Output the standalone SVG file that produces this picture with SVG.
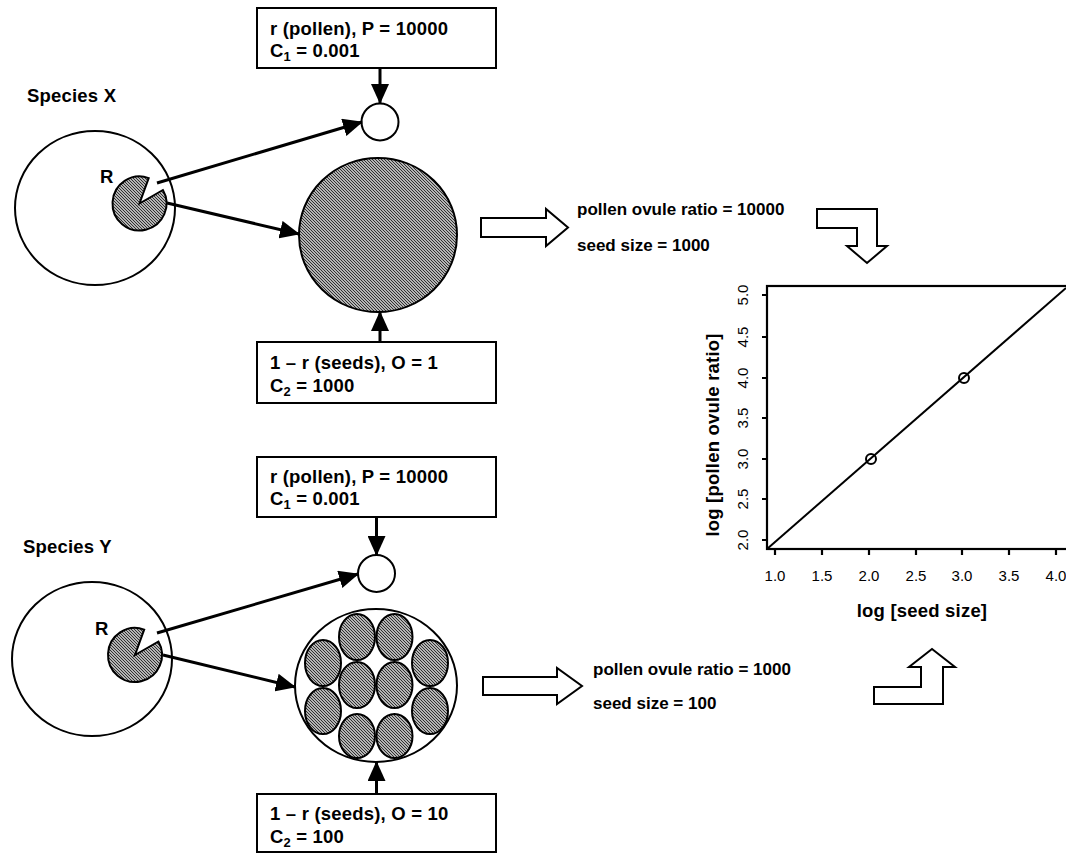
<svg xmlns="http://www.w3.org/2000/svg" width="1066" height="854" viewBox="0 0 1066 854">
<style>
text{font-family:"Liberation Sans",Arial,sans-serif;fill:#000}
.b{font-weight:bold;font-size:18.5px;letter-spacing:0.2px}
.r{font-weight:bold;font-size:17px}
.t{font-size:15px}
.sub{font-size:13px;letter-spacing:0}
.box{fill:#fff;stroke:#000;stroke-width:2}
.ol{fill:#fff;stroke:#000;stroke-width:2}
.h{fill:url(#hatch);stroke:#000;stroke-width:2}
.con{stroke:#000;stroke-width:3;fill:none;marker-end:url(#ah)}
.blk{fill:#fff;stroke:#000;stroke-width:2;stroke-linejoin:miter}
.ax{stroke:#000;stroke-width:2.2;fill:none}
</style>
<defs>
<pattern id="hatch" patternUnits="userSpaceOnUse" width="3" height="3">
<rect width="3" height="3" fill="#b4b4b4"/>
<path d="M0,0 L3,3 M-1,2 L1,4 M2,-1 L4,1" stroke="#222" stroke-width="0.9"/>
</pattern>
<marker id="ah" markerUnits="userSpaceOnUse" markerWidth="20" markerHeight="18" refX="19" refY="9" orient="auto">
<path d="M0,0 L20,9 L0,18 Z" fill="#000"/>
</marker>
</defs>
<rect width="1066" height="854" fill="#fff"/>

<g id="speciesX">
<text class="b" x="27" y="102">Species X</text>
<ellipse class="ol" cx="95" cy="208" rx="80" ry="77"/>
<path class="h" d="M139.5,203.5 L162.9,190 A27,27 0 1,1 148.7,178.1 Z"/>
<text class="b" x="100" y="183">R</text>
</g>
<g id="pollenX"><circle class="ol" cx="380" cy="122" r="18.5"/></g>
<g id="ovuleX"><ellipse class="h" cx="378" cy="235" rx="79" ry="77"/></g>
<g id="boxX1">
<rect class="box" x="257" y="8" width="239" height="60"/>
<text class="b" x="270" y="35">r (pollen), P = 10000</text>
<text class="b" x="270" y="57">C<tspan class="sub" dy="4">1</tspan><tspan dy="-4"> = 0.001</tspan></text>
</g>
<g id="boxX2">
<rect class="box" x="257" y="342" width="239" height="61"/>
<text class="b" x="270" y="369">1 – r (seeds), O = 1</text>
<text class="b" x="270" y="392">C<tspan class="sub" dy="4">2</tspan><tspan dy="-4"> = 1000</tspan></text>
</g>

<g id="speciesY">
<text class="b" x="23" y="553">Species Y</text>
<ellipse class="ol" cx="92" cy="659" rx="80" ry="77"/>
<path class="h" d="M135,655 L158.4,641.5 A27,27 0 1,1 144.2,629.6 Z"/>
<text class="b" x="95" y="635">R</text>
</g>
<g id="pollenY"><circle class="ol" cx="376.5" cy="573.5" r="18.5"/></g>
<g id="ovuleY">
<ellipse class="ol" cx="376" cy="685.5" rx="81" ry="76.5"/>
<ellipse class="h" cx="357" cy="637" rx="18" ry="23"/>
<ellipse class="h" cx="394.5" cy="637" rx="18" ry="23"/>
<ellipse class="h" cx="323" cy="663" rx="18" ry="23"/>
<ellipse class="h" cx="430" cy="663" rx="18" ry="23"/>
<ellipse class="h" cx="357" cy="685" rx="18" ry="23"/>
<ellipse class="h" cx="394.5" cy="685" rx="18" ry="23"/>
<ellipse class="h" cx="323" cy="711" rx="18" ry="23"/>
<ellipse class="h" cx="430" cy="711" rx="18" ry="23"/>
<ellipse class="h" cx="357" cy="736" rx="18" ry="22"/>
<ellipse class="h" cx="394.5" cy="736" rx="18" ry="22"/>
</g>
<g id="boxY1">
<rect class="box" x="257" y="457" width="239" height="60"/>
<text class="b" x="270" y="483">r (pollen), P = 10000</text>
<text class="b" x="270" y="505">C<tspan class="sub" dy="4">1</tspan><tspan dy="-4"> = 0.001</tspan></text>
</g>
<g id="boxY2">
<rect class="box" x="257" y="794" width="239" height="58"/>
<text class="b" x="270" y="820">1 – r (seeds), O = 10</text>
<text class="b" x="270" y="843">C<tspan class="sub" dy="4">2</tspan><tspan dy="-4"> = 100</tspan></text>
</g>

<g id="connectors">
<line class="con" x1="157" y1="183" x2="362" y2="122"/>
<line class="con" x1="167" y1="203" x2="299" y2="234"/>
<line class="con" x1="380" y1="68" x2="380" y2="103"/>
<line class="con" x1="380" y1="342" x2="380" y2="312"/>
<line class="con" x1="157" y1="633" x2="358" y2="574"/>
<line class="con" x1="163" y1="655" x2="295" y2="687"/>
<line class="con" x1="376.5" y1="517" x2="376.5" y2="555"/>
<line class="con" x1="376.5" y1="794" x2="376.5" y2="762"/>
</g>

<g id="resultX">
<polygon class="blk" points="481,218 546,218 546,209 568,227.5 546,246 546,237 481,237"/>
<text class="r" x="577" y="215">pollen ovule ratio = 10000</text>
<text class="r" x="577" y="251">seed size = 1000</text>
<polygon class="blk" points="817,209 877,209 877,246 887,246 867,263 847,246 857,246 857,228 817,228"/>
</g>
<g id="resultY">
<polygon class="blk" points="483,677 557,677 557,668 582,686 557,704 557,695 483,695"/>
<text class="r" x="593" y="675">pollen ovule ratio = 1000</text>
<text class="r" x="593" y="709">seed size = 100</text>
<polygon class="blk" points="874,704 943,704 943,667 955,667 932,649 909,667 921,667 921,687 874,687"/>
</g>

<g id="plot">
<rect class="ax" x="767" y="286" width="320" height="263"/>
<path class="ax" d="M762,295H767M762,337H767M762,378H767M762,418H767M762,459H767M762,499H767M762,540H767"/>
<path class="ax" d="M775,549V555M822,549V555M869,549V555M916,549V555M962,549V555M1009,549V555M1056,549V555"/>
<g class="t" text-anchor="middle">
<text transform="translate(748,295) rotate(-90)">5.0</text>
<text transform="translate(748,337) rotate(-90)">4.5</text>
<text transform="translate(748,378) rotate(-90)">4.0</text>
<text transform="translate(748,418) rotate(-90)">3.5</text>
<text transform="translate(748,459) rotate(-90)">3.0</text>
<text transform="translate(748,499) rotate(-90)">2.5</text>
<text transform="translate(748,540) rotate(-90)">2.0</text>
<text x="775" y="581">1.0</text>
<text x="822" y="581">1.5</text>
<text x="869" y="581">2.0</text>
<text x="916" y="581">2.5</text>
<text x="962" y="581">3.0</text>
<text x="1009" y="581">3.5</text>
<text x="1056" y="581">4.0</text>
</g>
<text class="b" text-anchor="middle" x="922" y="617">log [seed size]</text>
<text class="b" text-anchor="middle" transform="translate(719,435) rotate(-90)">log [pollen ovule ratio]</text>
<line x1="767" y1="549" x2="1066" y2="288" stroke="#000" stroke-width="2"/>
<circle cx="871" cy="459" r="5" fill="none" stroke="#000" stroke-width="2"/>
<circle cx="964" cy="378" r="5" fill="none" stroke="#000" stroke-width="2"/>
</g>
</svg>
